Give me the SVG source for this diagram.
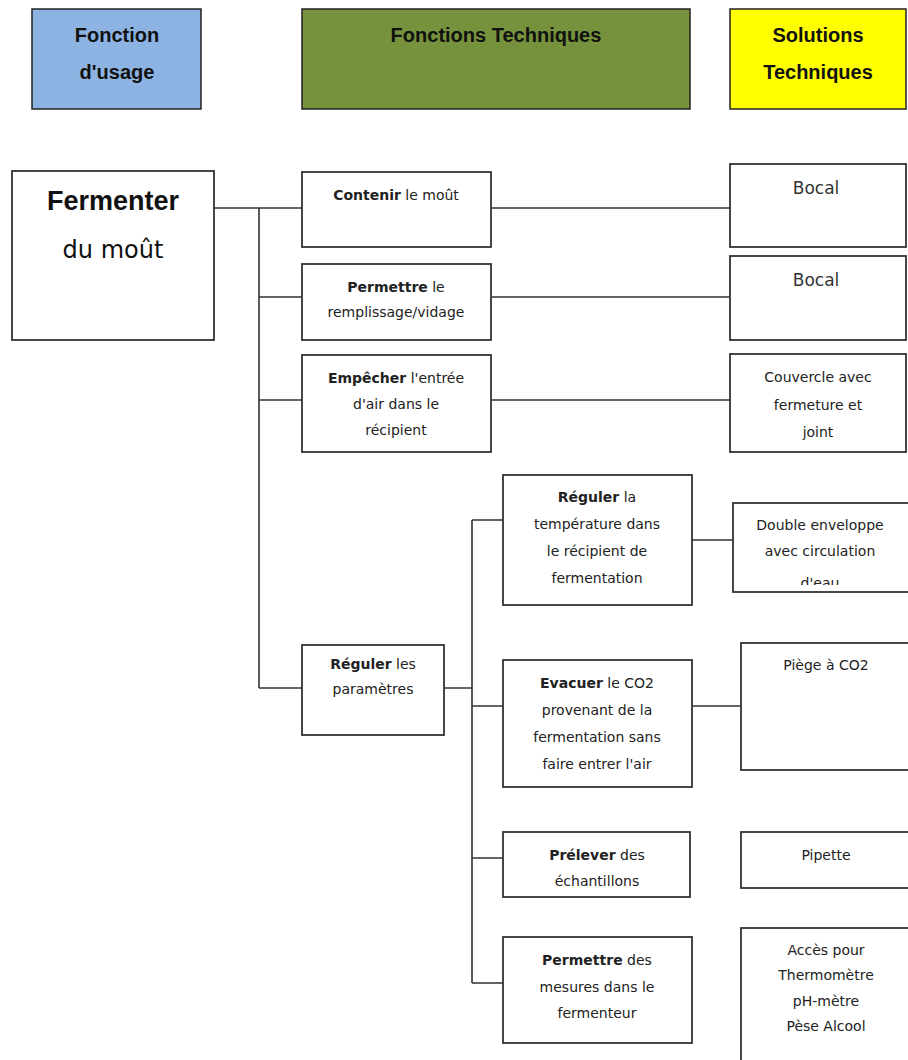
<svg xmlns="http://www.w3.org/2000/svg" width="908" height="1060" viewBox="0 0 908 1060">
<style>
.hdr{stroke:#222;stroke-width:1.5}
.box{fill:#fff;stroke:#333;stroke-width:1.8}
.t{font-family:"DejaVu Sans",sans-serif;font-size:14px;fill:#222;text-anchor:middle}
.b{font-weight:bold}
.h{font-family:"Liberation Sans",Arial,sans-serif;font-size:20px;font-weight:bold;fill:#111;text-anchor:middle}
.sol{font-family:"DejaVu Sans",sans-serif;font-size:17px;fill:#333;text-anchor:middle}
.ln{stroke:#333;stroke-width:1.6;fill:none}
</style>
<defs>
<clipPath id="clipDE"><rect x="733" y="503" width="180" height="82"/></clipPath>
</defs>
<rect width="908" height="1060" fill="#fff"/>

<g id="hdr-usage">
<rect class="hdr" x="32" y="9" width="169" height="100" fill="#8db3e2"/>
<text class="h" x="117" y="42">Fonction</text>
<text class="h" x="117" y="79">d'usage</text>
</g>
<g id="hdr-ft">
<rect class="hdr" x="302" y="9" width="388" height="100" fill="#76923c"/>
<text class="h" x="496" y="42">Fonctions  Techniques</text>
</g>
<g id="hdr-st">
<rect class="hdr" x="730" y="9" width="176" height="100" fill="#ffff00"/>
<text class="h" x="818" y="42">Solutions</text>
<text class="h" x="818" y="79">Techniques</text>
</g>

<g id="connectors">
<path class="ln" d="M214 208H302M259 208V688M259 297H302M259 400H302M259 688H302"/>
<path class="ln" d="M491 208H730M491 297H730M491 400H730"/>
<path class="ln" d="M444 688H472M472 520V983M472 520H503M472 706H503M472 858H503M472 983H503"/>
<path class="ln" d="M692 540H733M692 706H741"/>
</g>

<g id="fu">
<rect class="box" x="12" y="171" width="202" height="169"/>
<text x="113" y="210" font-family="Liberation Sans,Arial,sans-serif" font-size="27" font-weight="bold" fill="#111" text-anchor="middle">Fermenter</text>
<text x="113" y="258" font-family="DejaVu Sans,sans-serif" font-size="24" fill="#111" text-anchor="middle">du moût</text>
</g>

<g id="ft1">
<rect class="box" x="302" y="172" width="189" height="75"/>
<text class="t" x="396" y="200"><tspan class="b">Contenir</tspan> le moût</text>
</g>
<g id="ft2">
<rect class="box" x="302" y="264" width="189" height="76"/>
<text class="t" x="396" y="292"><tspan class="b">Permettre</tspan> le</text>
<text class="t" x="396" y="317">remplissage/vidage</text>
</g>
<g id="ft3">
<rect class="box" x="302" y="355" width="189" height="97"/>
<text class="t" x="396" y="383"><tspan class="b">Empêcher</tspan> l'entrée</text>
<text class="t" x="396" y="409">d'air dans le</text>
<text class="t" x="396" y="435">récipient</text>
</g>
<g id="ft4">
<rect class="box" x="302" y="645" width="142" height="90"/>
<text class="t" x="373" y="669"><tspan class="b">Réguler</tspan> les</text>
<text class="t" x="373" y="694">paramètres</text>
</g>

<g id="ft41">
<rect class="box" x="503" y="475" width="189" height="130"/>
<text class="t" x="597" y="502"><tspan class="b">Réguler</tspan> la</text>
<text class="t" x="597" y="529">température dans</text>
<text class="t" x="597" y="556">le récipient de</text>
<text class="t" x="597" y="583">fermentation</text>
</g>
<g id="ft42">
<rect class="box" x="503" y="660" width="189" height="127"/>
<text class="t" x="597" y="688"><tspan class="b">Evacuer</tspan> le CO2</text>
<text class="t" x="597" y="715">provenant de la</text>
<text class="t" x="597" y="742">fermentation sans</text>
<text class="t" x="597" y="769">faire entrer l'air</text>
</g>
<g id="ft43">
<rect class="box" x="503" y="832" width="187" height="65"/>
<text class="t" x="597" y="860"><tspan class="b">Prélever</tspan> des</text>
<text class="t" x="597" y="886">échantillons</text>
</g>
<g id="ft44">
<rect class="box" x="503" y="937" width="189" height="106"/>
<text class="t" x="597" y="965"><tspan class="b">Permettre</tspan> des</text>
<text class="t" x="597" y="992">mesures dans le</text>
<text class="t" x="597" y="1018">fermenteur</text>
</g>

<g id="st1">
<rect class="box" x="730" y="164" width="176" height="83"/>
<text class="sol" x="816" y="194">Bocal</text>
</g>
<g id="st2">
<rect class="box" x="730" y="256" width="176" height="84"/>
<text class="sol" x="816" y="286">Bocal</text>
</g>
<g id="st3">
<rect class="box" x="730" y="354" width="176" height="98"/>
<text class="t" x="818" y="382">Couvercle avec</text>
<text class="t" x="818" y="410">fermeture et</text>
<text class="t" x="818" y="437">joint</text>
</g>
<g id="st41">
<rect class="box" x="733" y="503" width="180" height="89"/>
<g clip-path="url(#clipDE)">
<text class="t" x="820" y="530">Double enveloppe</text>
<text class="t" x="820" y="556">avec circulation</text>
<text class="t" x="820" y="588">d'eau</text>
</g>
</g>
<g id="st42">
<rect class="box" x="741" y="643" width="172" height="127"/>
<text class="t" x="826" y="670">Piège à CO2</text>
</g>
<g id="st43">
<rect class="box" x="741" y="832" width="172" height="56"/>
<text class="t" x="826" y="860">Pipette</text>
</g>
<g id="st44">
<rect class="box" x="741" y="928" width="172" height="140"/>
<text class="t" x="826" y="955">Accès pour</text>
<text class="t" x="826" y="980">Thermomètre</text>
<text class="t" x="826" y="1006">pH-mètre</text>
<text class="t" x="826" y="1031">Pèse Alcool</text>
</g>
</svg>
